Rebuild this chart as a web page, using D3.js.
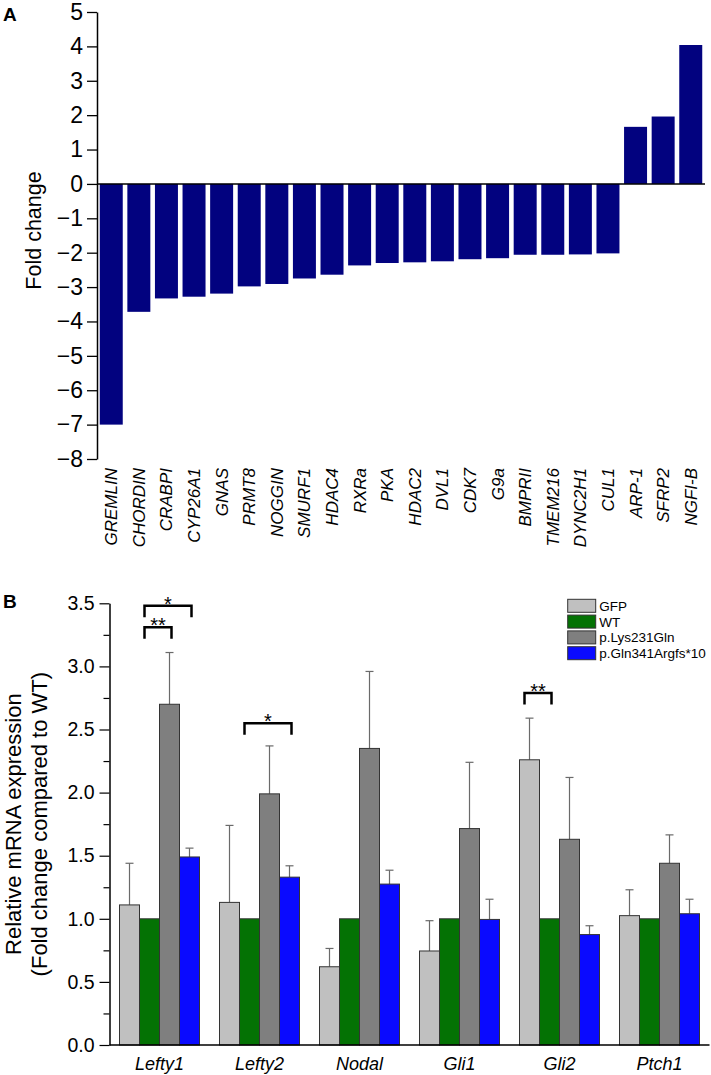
<!DOCTYPE html>
<html>
<head>
<meta charset="utf-8">
<script src="https://cdn.jsdelivr.net/npm/d3@7"></script>
<style>
  html, body { margin: 0; padding: 0; background: #fff; }
  svg { display: block; font-family: "Liberation Sans", Arial, Helvetica, sans-serif; }
</style>
</head>
<body>
<svg id="chart" width="711" height="1075"></svg>
<script>
// ---------- Panel A data ----------
const genesA = ["GREMLIN","CHORDIN","CRABPI","CYP26A1","GNAS","PRMT8","NOGGIN","SMURF1","HDAC4","RXRa","PKA","HDAC2","DVL1","CDK7","G9a","BMPRII","TMEM216","DYNC2H1","CUL1","ARP-1","SFRP2","NGFI-B"];
const foldA = [-7.0,-3.72,-3.33,-3.28,-3.19,-2.98,-2.91,-2.75,-2.64,-2.37,-2.30,-2.28,-2.25,-2.19,-2.16,-2.06,-2.06,-2.05,-2.02,1.66,1.96,4.04];
const ticksA = [-8,-7,-6,-5,-4,-3,-2,-1,0,1,2,3,4,5];

// ---------- Panel B data ----------
const genesB = ["Lefty1","Lefty2","Nodal","Gli1","Gli2","Ptch1"];
const seriesB = ["GFP","WT","p.Lys231Gln","p.Gln341Argfs*10"];
const gfpMean = [1.11,1.13,0.62,0.745,2.26,1.025];
const gfpSD   = [0.33,0.61,0.145,0.24,0.33,0.205];
const wtMean  = [1,1,1,1,1,1];
const wtSD    = [0,0,0,0,0,0];
const lysMean = [2.70,1.99,2.35,1.715,1.63,1.44];
const lysSD   = [0.41,0.38,0.61,0.525,0.49,0.225];
const glnMean = [1.49,1.33,1.275,0.995,0.875,1.04];
const glnSD   = [0.07,0.09,0.11,0.16,0.07,0.115];
const ticksB = [0,0.5,1,1.5,2,2.5,3,3.5];
const minorTicksB = [0.25,0.75,1.25,1.75,2.25,2.75,3.25];

// significance brackets
const sigGroup = ["Lefty1","Lefty1","Lefty2","Gli2"];
const sigFrom  = ["WT","WT","WT","GFP"];
const sigTo    = ["p.Lys231Gln","p.Gln341Argfs*10","p.Gln341Argfs*10","WT"];
const sigLevel = [3.31,3.48,2.55,2.79];
const sigLabel = ["**","*","*","**"];

const colorsB = ["#c0c0c0","#047204","#7f7f7f","#0a0aff"];

const svg = d3.select("#chart");
const FONT = '"Liberation Sans", Arial, Helvetica, sans-serif';

// ================= PANEL A =================
const yA = d3.scaleLinear().domain([-8,5]).range([459,12]);
const xA = d3.scaleBand().domain(genesA).range([97,705]).paddingInner(0.167).paddingOuter(0.1);
const gA = svg.append("g");

gA.selectAll("rect.barA").data(genesA).join("rect")
  .attr("class","barA")
  .attr("x", d => xA(d))
  .attr("width", xA.bandwidth())
  .attr("y", (d,i) => Math.min(yA(foldA[i]), yA(0)))
  .attr("height", (d,i) => Math.abs(yA(foldA[i]) - yA(0)))
  .attr("fill", "#02027f");

const axA = gA.append("g").attr("transform","translate(97,0)")
  .call(d3.axisLeft(yA).tickValues(ticksA).tickFormat(d3.format("d")).tickSize(10).tickSizeOuter(0).tickPadding(4));
axA.select(".domain").attr("stroke","#000").attr("stroke-width",1.5);
axA.selectAll(".tick line").attr("stroke","#000").attr("stroke-width",1.3);
axA.selectAll(".tick text").attr("font-size",23).attr("font-family",FONT).attr("fill","#000");

gA.append("line").attr("x1",97).attr("x2",705).attr("y1",yA(0)).attr("y2",yA(0))
  .attr("stroke","#000").attr("stroke-width",1.5);

gA.selectAll("text.labA").data(genesA).join("text")
  .attr("class","labA")
  .attr("transform", d => `translate(${xA(d)+xA.bandwidth()/2},468) rotate(-90)`)
  .attr("text-anchor","end")
  .attr("dy","0.35em")
  .attr("font-style","italic")
  .attr("font-size",17)
  .text(d => d);

gA.append("text").attr("transform","translate(40.5,230.5) rotate(-90)")
  .attr("text-anchor","middle").attr("font-size",21.5).text("Fold change");

svg.append("text").attr("x",3).attr("y",21).attr("font-weight","bold").attr("font-size",19).text("A");

// ================= PANEL B =================
const yB = d3.scaleLinear().domain([0,3.5]).range([1045,603.3]);
const xB = d3.scaleBand().domain(genesB).range([109.5,709.5]).paddingInner(0.2).paddingOuter(0.1);
const xS = d3.scaleBand().domain(seriesB).range([0, xB.bandwidth()]);
const gB = svg.append("g");

const means = [gfpMean, wtMean, lysMean, glnMean];
const sds = [gfpSD, wtSD, lysSD, glnSD];
const recs = [];
genesB.forEach((g,gi) => seriesB.forEach((s,si) => recs.push({g, s, si, m: means[si][gi], sd: sds[si][gi]})));

gB.selectAll("line.err").data(recs.filter(r => r.sd > 0)).join("line")
  .attr("class","err")
  .attr("x1", r => xB(r.g)+xS(r.s)+xS.bandwidth()/2)
  .attr("x2", r => xB(r.g)+xS(r.s)+xS.bandwidth()/2)
  .attr("y1", r => yB(r.m)).attr("y2", r => yB(r.m + r.sd))
  .attr("stroke","#6a6a6a").attr("stroke-width",1.2);
gB.selectAll("line.cap").data(recs.filter(r => r.sd > 0)).join("line")
  .attr("class","cap")
  .attr("x1", r => xB(r.g)+xS(r.s)+xS.bandwidth()/2 - 4)
  .attr("x2", r => xB(r.g)+xS(r.s)+xS.bandwidth()/2 + 4)
  .attr("y1", r => yB(r.m + r.sd)).attr("y2", r => yB(r.m + r.sd))
  .attr("stroke","#6a6a6a").attr("stroke-width",1.2);

gB.selectAll("rect.barB").data(recs).join("rect")
  .attr("class","barB")
  .attr("x", r => xB(r.g)+xS(r.s))
  .attr("width", xS.bandwidth())
  .attr("y", r => yB(r.m))
  .attr("height", r => yB(0) - yB(r.m))
  .attr("fill", r => colorsB[r.si])
  .attr("stroke","#333").attr("stroke-width",1);

const axB = gB.append("g").attr("transform","translate(109.5,0)")
  .call(d3.axisLeft(yB).tickValues(ticksB).tickFormat(d3.format(".1f")).tickSize(10).tickSizeOuter(0).tickPadding(5));
axB.select(".domain").attr("stroke","#000").attr("stroke-width",1.5);
axB.selectAll(".tick line").attr("stroke","#000").attr("stroke-width",1.2);
axB.selectAll(".tick text").attr("font-size",19.5).attr("font-family",FONT).attr("fill","#000");
const axBm = gB.append("g").attr("transform","translate(109.5,0)")
  .call(d3.axisLeft(yB).tickValues(minorTicksB).tickFormat("").tickSize(6).tickSizeOuter(0));
axBm.select(".domain").remove();
axBm.selectAll(".tick line").attr("stroke","#000").attr("stroke-width",1.2);

gB.append("line").attr("x1",109.5).attr("x2",709.5).attr("y1",yB(0)).attr("y2",yB(0))
  .attr("stroke","#000").attr("stroke-width",1.5);

gB.selectAll("text.labB").data(genesB).join("text")
  .attr("class","labB")
  .attr("x", d => xB(d)+xB.bandwidth()/2)
  .attr("y", 1070)
  .attr("text-anchor","middle")
  .attr("font-style","italic")
  .attr("font-size",18)
  .text(d => d);

gB.append("text").attr("transform",`translate(21,${(yB(0)+yB(3.5))/2}) rotate(-90)`)
  .attr("text-anchor","middle").attr("font-size",22).text("Relative mRNA expression");
gB.append("text").attr("transform",`translate(47,${(yB(0)+yB(3.5))/2}) rotate(-90)`)
  .attr("text-anchor","middle").attr("font-size",22).text("(Fold change compared to WT)");

svg.append("text").attr("x",3).attr("y",608).attr("font-weight","bold").attr("font-size",19).text("B");

// legend
const leg = gB.append("g").attr("transform","translate(567.7,599.3)");
seriesB.forEach((s,i) => {
  leg.append("rect").attr("x",0).attr("y",i*15.8).attr("width",28).attr("height",13)
    .attr("fill",colorsB[i]).attr("stroke","#333").attr("stroke-width",1);
  leg.append("text").attr("x",31.6).attr("y",i*15.8+11.5).attr("font-size",13.5).text(s);
});

// significance brackets
sigGroup.forEach((g,i) => {
  const x1 = xB(g)+xS(sigFrom[i])+xS.bandwidth()/2 - 5;
  const x2 = xB(g)+xS(sigTo[i])+xS.bandwidth()/2 + 2;
  const y = yB(sigLevel[i]);
  gB.append("path").attr("d",`M${x1},${y+11.5}V${y}H${x2}V${y+11.5}`)
    .attr("fill","none").attr("stroke","#000").attr("stroke-width",2.5);
  gB.append("text").attr("x",(x1+x2)/2).attr("y",y+5).attr("text-anchor","middle")
    .attr("font-size",20).text(sigLabel[i]);
});
</script>
</body>
</html>
